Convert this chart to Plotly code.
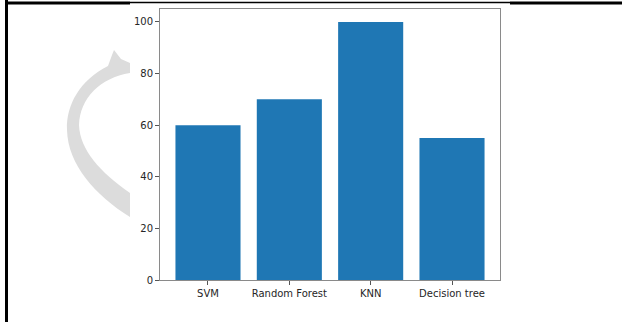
import plotly.graph_objects as go

models = ["SVM", "Random Forest", "KNN", "Decision tree"]
accuracy = [60, 70, 100, 55]
y_ticks = [0, 20, 40, 60, 80, 100]

W, H = 622, 322

def px(x, y):
    return f"{x / W:.5f},{1 - y / H:.5f}"

fig = go.Figure()
fig.add_trace(go.Bar(x=list(range(len(models))), y=accuracy, marker=dict(color="#1f77b4", line=dict(width=0)),
                     width=0.8))

# watermark arrow (curved, light gray)
arrow = ("M " + px(130, 63) + " L " + px(121, 59) + " L " + px(114, 50) + " L " + px(112, 55) + " L " + px(108, 66)
         + " C " + px(80, 80) + " " + px(66, 105) + " " + px(67, 130)
         + " C " + px(68, 165) + " " + px(95, 195) + " " + px(130, 217)
         + " L " + px(130, 193)
         + " C " + px(100, 172) + " " + px(80, 150) + " " + px(79, 125)
         + " C " + px(80, 98) + " " + px(100, 78) + " " + px(130, 73) + " Z")
shapes = [
    dict(type="path", xref="paper", yref="paper", path=arrow, fillcolor="#dcdcdc", line=dict(width=0), layer="below"),
    # outer frame lines of the screenshot
    dict(type="line", xref="paper", yref="paper", x0=6.5 / W, x1=6.5 / W, y0=0, y1=1, line=dict(color="black", width=3)),
    dict(type="line", xref="paper", yref="paper", x0=6 / W, x1=130 / W, y0=1 - 3 / H, y1=1 - 3 / H, line=dict(color="black", width=3)),
    dict(type="line", xref="paper", yref="paper", x0=130 / W, x1=510 / W, y0=1 - 2.5 / H, y1=1 - 2.5 / H, line=dict(color="black", width=1.5)),
    dict(type="line", xref="paper", yref="paper", x0=510 / W, x1=1, y0=1 - 3 / H, y1=1 - 3 / H, line=dict(color="black", width=3)),
]

fig.update_layout(
    width=W, height=H,
    margin=dict(l=0, r=0, t=0, b=0, autoexpand=False),
    paper_bgcolor="white", plot_bgcolor="white",
    showlegend=False,
    shapes=shapes,
    font=dict(family="DejaVu Sans", size=10, color="#262626"),
    bargap=0.2,
)
fig.update_xaxes(
    domain=[160 / W, 500 / W], range=[-0.59, 3.59], automargin=False,
    tickmode="array", tickvals=list(range(len(models))), ticktext=models,
    showline=True, mirror=True, linecolor="#8a8a8a", linewidth=1,
    ticks="outside", ticklen=4, tickcolor="#555", showgrid=False, zeroline=False,
)
fig.update_yaxes(
    domain=[1 - 280 / H, 1 - 9 / H], range=[0, 105], automargin=False,
    tickmode="array", tickvals=y_ticks,
    showline=True, mirror=True, linecolor="#8a8a8a", linewidth=1,
    ticks="outside", ticklen=4, tickcolor="#555", showgrid=False, zeroline=False,
)

fig.write_html("out.html", config={"displayModeBar": False},
               post_script="document.body.style.margin='0';document.body.style.overflow='hidden';")
